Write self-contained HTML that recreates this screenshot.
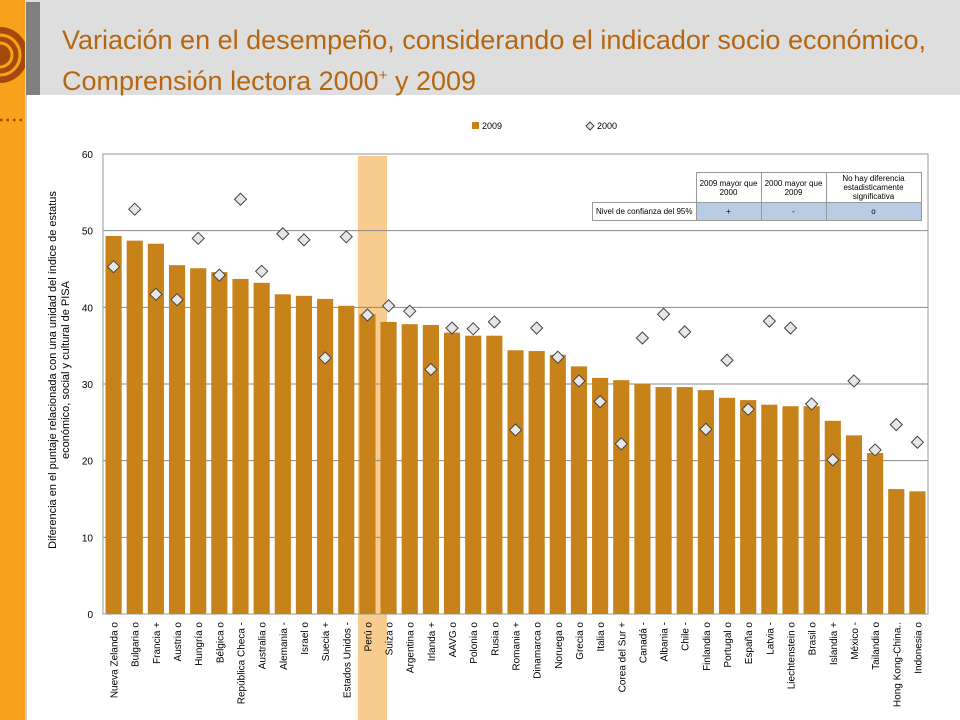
<!DOCTYPE html>
<html><head><meta charset="utf-8"><style>
body{margin:0;width:960px;height:720px;overflow:hidden;background:#fff;font-family:"Liberation Sans",sans-serif;position:relative}
</style></head><body>
<div style="position:absolute;left:0;top:0;width:25px;height:720px;background:#f9a11b"></div>
<div style="position:absolute;left:25px;top:95px;width:2px;height:625px;background:#ccc"></div>
<svg style="position:absolute;left:0;top:0" width="30" height="130">
<circle cx="0" cy="55" r="28" fill="#a34a0c"/><circle cx="0" cy="55" r="20" fill="none" stroke="#f9a11b" stroke-width="3"/><circle cx="0" cy="55" r="12" fill="none" stroke="#f9a11b" stroke-width="3"/>
<line x1="0" y1="120" x2="26" y2="120" stroke="#a34a0c" stroke-width="2.5" stroke-dasharray="2.5 4"/>
</svg>
<div style="position:absolute;left:25px;top:0;width:935px;height:95px;background:#dedede"></div>
<div style="position:absolute;left:26px;top:2px;width:14px;height:93px;background:#808080"></div>
<div style="position:absolute;left:62px;top:22px;font-size:27px;line-height:36px;color:#b5670f;font-family:'Liberation Sans',sans-serif">Variación en el desempeño, considerando el indicador socio económico, Comprensión lectora 2000<sup style="font-size:15px">+</sup> y 2009</div>
<svg id="chart" style="position:absolute;left:0;top:0" width="960" height="720"></svg>
<script>
const categories=["Nueva Zelanda  o","Bulgaria  o","Francia  +","Austria  o","Hungría  o","Bélgica  o","República Checa  -","Australia  o","Alemania  -","Israel  o","Suecia  +","Estados Unidos  -","Perú  o","Suiza  o","Argentina  o","Irlanda  +","AAVG  o","Polonia  o","Rusia  o","Romania  +","Dinamarca  o","Noruega  o","Grecia  o","Italia  o","Corea del Sur  +","Canadá  -","Albania  -","Chile  -","Finlandia  o","Portugal  o","España  o","Latvia  -","Liechtenstein  o","Brasil  o","Islandia  +","México  -","Tailandia  o","Hong Kong-China..","Indonesia  o"];
const values2009=[49.3,48.7,48.3,45.5,45.1,44.6,43.7,43.2,41.7,41.5,41.1,40.2,39.1,38.1,37.8,37.7,36.7,36.3,36.3,34.4,34.3,33.8,32.3,30.8,30.5,30.0,29.6,29.6,29.2,28.2,27.9,27.3,27.1,27.1,25.2,23.3,21.0,16.3,16.0];
const values2000=[45.3,52.8,41.7,41.0,49.0,44.2,54.1,44.7,49.6,48.8,33.4,49.2,39.0,40.2,39.5,31.9,37.3,37.2,38.1,24.0,37.3,33.5,30.4,27.7,22.2,36.0,39.1,36.8,24.1,33.1,26.7,38.2,37.3,27.4,20.1,30.4,21.4,24.7,22.4];
const yTicks=[0,10,20,30,40,50,60];
const highlight="Perú  o";
const NS="http://www.w3.org/2000/svg",svg=document.getElementById('chart');
const L=103,R=928,T=154,B=614,YMAX=60;
const n=categories.length,bw=(R-L)/n;
const y=v=>B-(v/YMAX)*(B-T), x=i=>L+i*bw;
function mk(t,a){const e=document.createElementNS(NS,t);for(const k in a)e.setAttribute(k,a[k]);svg.appendChild(e);return e;}
categories.forEach((c,i)=>{if(c===highlight){const r=mk('rect',{x:x(i)+1,y:T+2,width:bw+8,height:720-T,fill:'#f8cb8e'});

}});
yTicks.forEach(t=>{const l=mk('line',{x1:L,x2:R,y1:y(t),y2:y(t),stroke:'#888','stroke-width':1});


const tx=mk('text',{x:93,y:y(t)+4,'text-anchor':'end','font-size':10,fill:'#000'});tx.textContent=t;

});
const fr=mk('rect',{x:L,y:T,width:R-L,height:B-T,fill:'none',stroke:'#999'});


categories.forEach((c,i)=>{
const b=mk('rect',{x:x(i)+2.5,y:y(values2009[i]),width:bw-5,height:B-y(values2009[i]),fill:'#c8821a'});


const cx=x(i)+bw/2,cy=y(values2000[i]);
const d=mk('polygon',{points:`${cx},${cy-6} ${cx+6},${cy} ${cx},${cy+6} ${cx-6},${cy}`,fill:'#e6e6e6',stroke:'#444','stroke-width':1});


const t=mk('text',{transform:`translate(${cx+4},622) rotate(-90)`,'text-anchor':'end','font-size':10,fill:'#000'});t.textContent=c;


});
const lg=mk('rect',{x:472,y:122,width:7,height:7,fill:'#c8821a'});


const lt=mk('text',{x:482,y:129,'font-size':9});lt.textContent='2009';


const ld=mk('polygon',{points:'590,122 594,126 590,130 586,126',fill:'#e6e6e6',stroke:'#444'});


const lt2=mk('text',{x:597,y:129,'font-size':9});lt2.textContent='2000';


const yt=mk('text',{transform:'translate(56,370) rotate(-90)','text-anchor':'middle','font-size':11});


yt.innerHTML='<tspan x="0" dy="0">Diferencia en el puntaje relacionada con una unidad del índice de estatus</tspan><tspan x="0" dy="13">económico, social y cultural  de PISA</tspan>';
</script>
<table style="position:absolute;left:592px;top:172px;border-collapse:collapse;font-size:8px;text-align:center;font-family:'Liberation Sans',sans-serif">
<tr style="height:29px"><td style="width:101px"></td><td style="width:62px;border:1px solid #999;background:#fff">2009 mayor que 2000</td><td style="width:62px;border:1px solid #999;background:#fff">2000 mayor que 2009</td><td style="width:92px;border:1px solid #999;background:#fff">No hay diferencia estadisticamente significativa</td></tr>
<tr style="height:18px"><td style="border:1px solid #999;background:#fff;line-height:8px">Nivel de confianza del 95%</td><td style="border:1px solid #999;background:#b8cce4">+</td><td style="border:1px solid #999;background:#b8cce4">-</td><td style="border:1px solid #999;background:#b8cce4">o</td></tr>
</table>
</body></html>
